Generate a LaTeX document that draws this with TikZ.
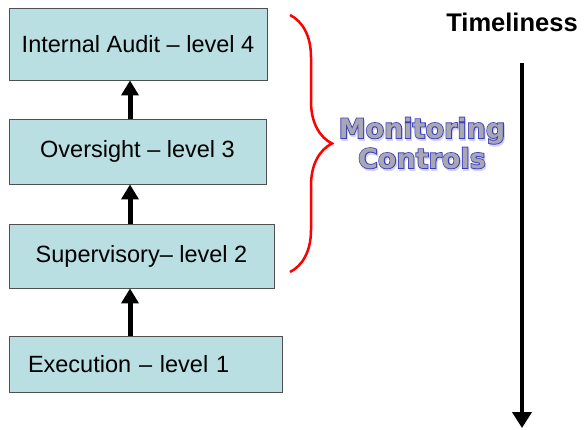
\documentclass[tikz,border=0pt]{standalone}
\usepackage{fontspec}
\setmainfont{Liberation Sans}
\newfontfamily\mctext{DejaVuSans-Bold.ttf}
\newfontfamily\mcedge{DejaVuSans-Bold.ttf}[FakeBold=6]
\usetikzlibrary{arrows.meta,decorations.pathreplacing}

\definecolor{lvlfill}{RGB}{185,223,227}
\definecolor{lvlline}{RGB}{80,80,80}
\definecolor{mcfill}{RGB}{168,168,178}
\definecolor{mcline}{RGB}{60,60,190}
\definecolor{mcshade}{RGB}{212,212,246}

\begin{document}
\begin{tikzpicture}[x=1pt,y=-1pt,
  lvl/.style={draw=lvlline,line width=0.9pt,fill=lvlfill,inner sep=0pt,font=\fontsize{23.5}{26}\selectfont},
  uparrow/.style={line width=5pt,-{Triangle[width=17pt,length=15pt]}},
  mc/.style={align=center,font=\fontsize{27}{30}\selectfont}]
\useasboundingbox (0,0) rectangle (586,429);
% the four control levels, bottom to top
\node[lvl,minimum width=258pt,minimum height=72pt] (lv4) at (138,44) {Internal Audit – level 4};
\node[lvl,minimum width=257pt,minimum height=65pt] (lv3) at (137.5,151.5) {Oversight – level 3};
\node[lvl,minimum width=265pt,minimum height=64pt] (lv2) at (141.5,256) {Supervisory– level 2};
\node[lvl,minimum width=273pt,minimum height=56pt,text width=235pt,inner xsep=19pt,align=left] (lv1) at (145.5,364) {Execution – level 1};
\coordinate (ax) at (130,0);
\draw[uparrow] (ax |- lv1.north) -- (ax |- lv2.south);
\draw[uparrow] (ax |- lv2.north) -- (ax |- lv3.south);
\draw[uparrow] (ax |- lv3.north) -- (ax |- lv4.south);
% brace over levels 2 to 4
\coordinate (btop) at (290,15);
\coordinate (bbot) at (290,272);
\draw[red,line width=2.5pt,decorate,decoration={brace,amplitude=42pt}] (btop) -- (bbot);
% outlined caption: soft shadow, blue edge, grey face
\node[mc,text=mcshade] (mcs) at (423,145) {\mcedge Monitoring\\\mcedge Controls};
\node[mc,text=mcline] (mce) at (422,143) {\mcedge Monitoring\\\mcedge Controls};
\node[mc,text=mcfill] (mct) at (422,143) {\mctext Monitoring\\\mctext Controls};
% time axis
\node[font=\bfseries\fontsize{25.5}{28}\selectfont] (tml) at (512,22.5) {Timeliness};
\coordinate (tstart) at (522,63);
\coordinate (tend) at (522,428);
\draw[line width=4pt,-{Triangle[width=19pt,length=16pt]}] (tstart) -- (tend);
\end{tikzpicture}
\end{document}
